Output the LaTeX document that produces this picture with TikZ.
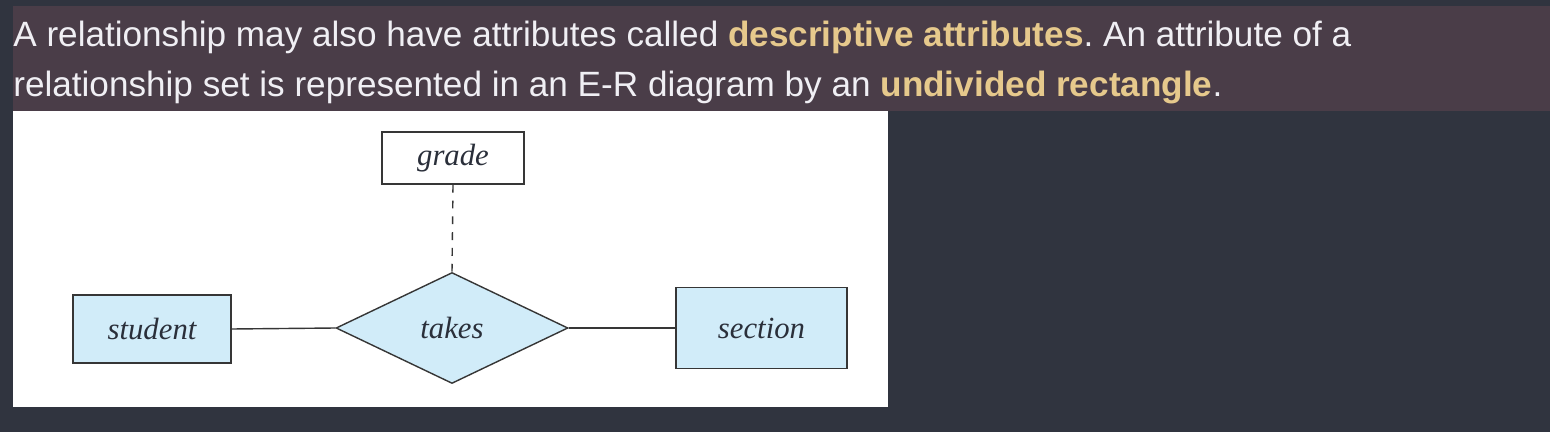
\documentclass[tikz,border=0pt]{standalone}
\usepackage{fontspec}
\setmainfont{Liberation Serif}
\newfontfamily\uisans{Liberation Sans}
\usetikzlibrary{shapes.geometric}

\definecolor{pagebg}{HTML}{30343F}
\definecolor{markbg}{HTML}{4A3D48}
\definecolor{plaintxt}{HTML}{F0EFF4}
\definecolor{keytxt}{HTML}{E6C98C}
\definecolor{erfill}{HTML}{D1ECF9}
\definecolor{erline}{HTML}{363636}
\definecolor{ertxt}{HTML}{2A2F3A}

\tikzset{
  entity/.style={draw=erline, line width=0.8pt, fill=erfill, inner sep=0pt,
    font=\fontsize{17.5}{20}\selectfont\itshape, text=ertxt},
  attrbox/.style={entity, fill=white},
  relship/.style={diamond, aspect=2, draw=erline, line width=0.8pt, fill=erfill,
    inner sep=0pt, font=\fontsize{17.5}{20}\selectfont\itshape, text=ertxt},
  prose/.style={anchor=base west, inner sep=0pt, text=plaintxt,
    font=\uisans\fontsize{20}{24}\selectfont\frenchspacing},
}
\newcommand{\keyword}[1]{\textcolor{keytxt}{\bfseries #1}}

\begin{document}
\begin{tikzpicture}[x=0.02cm, y=-0.02cm]
			%%%%% START %%%%%
			
			\fill[pagebg] (0, 0) rectangle (1550, 432);
			\useasboundingbox (0, 0) rectangle (1550, 432);
			\fill[markbg] (13, 6) rectangle (1550, 111);
			\fill[white] (13, 111) rectangle (888, 407);
			
			\node[prose] (line1) at (13, 47) {A relationship may also have attributes called \keyword{descriptive attributes}. An attribute of a};
			\node[prose] (line2) at (13, 97) {relationship set is represented in an E-R diagram by an \keyword{undivided rectangle}.};
			
			\node[attrbox, minimum width=2.84cm, minimum height=1.04cm] (grade) at (453, 158) {grade};
			\node[relship, minimum width=4.64cm, minimum height=2.22cm] (takes) at (452, 328) {takes};
			\node[entity, minimum width=3.16cm, minimum height=1.36cm] (student) at (152, 329) {student};
			\node[entity, minimum width=3.42cm, minimum height=1.62cm] (section) at (761.5, 328) {section};
			
			\draw[erline, line width=0.8pt] (student.east) -- (takes.west);
			\draw[erline, line width=0.8pt] (takes.east) -- (section.west);
			\draw[erline, line width=0.8pt, dash pattern=on 4.5pt off 4.5pt] (grade.south) -- (takes.north);
			
			%%%%% END %%%%%
\end{tikzpicture}
\end{document}
